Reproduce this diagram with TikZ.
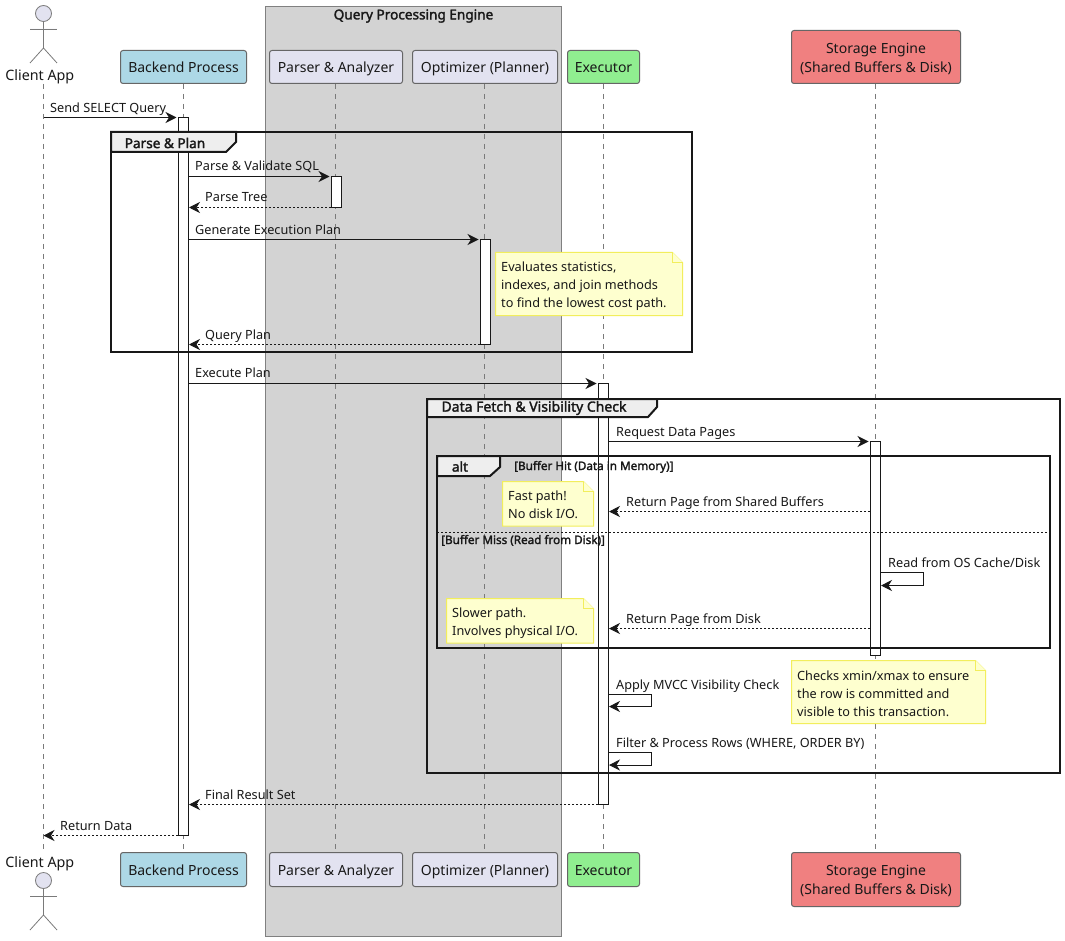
\documentclass[tikz,border=0pt]{standalone}
\usepackage{fontspec}
\setmainfont{Noto Sans}
\newfontfamily\boldnoto[FakeBold=2]{Noto Sans}
\usetikzlibrary{arrows.meta}
\definecolor{ink}{HTML}{181818}
\definecolor{partfill}{HTML}{E2E2F0}
\definecolor{partline}{HTML}{666666}
\definecolor{lifegray}{HTML}{7A7A7A}
\definecolor{boxfill}{HTML}{D3D3D3}
\definecolor{boxline}{HTML}{808080}
\definecolor{tabfill}{HTML}{EEEEEE}
\definecolor{notefill}{HTML}{FEFFCF}
\definecolor{noteline}{HTML}{F2EE5C}
\definecolor{backendfill}{HTML}{ADD8E6}
\definecolor{execfill}{HTML}{90EE90}
\definecolor{storefill}{HTML}{F08080}
\tikzset{
  x=1pt,y=-1pt,
  font=\fontsize{12.7}{18}\selectfont,
  partbox/.style={draw=partline,line width=1pt,rounded corners=2.5pt,inner sep=0pt,align=center,text=ink,font=\fontsize{14}{19}\selectfont},
  topline/.style={text height=14pt,text depth=2.6pt},
  botline/.style={text height=15pt,text depth=2.6pt},
  actorlabel/.style={inner sep=0pt,text=ink,minimum height=18pt,font=\fontsize{14.3}{19}\selectfont},
  actorline/.style={draw=lifegray,line width=0.8pt,fill=partfill},
  lifeline/.style={draw=lifegray,line width=0.7pt,dash pattern=on 5pt off 5pt},
  actbar/.style={draw=ink,line width=1pt,fill=white,inner sep=0pt,minimum width=10pt},
  solidmsg/.style={draw=ink,line width=1pt,-{Stealth[length=11pt,width=11pt,inset=3.5pt,color=ink]}},
  dashmsg/.style={draw=ink,line width=0.8pt,dash pattern=on 2pt off 2pt,-{Stealth[length=11pt,width=11pt,inset=3.5pt,color=ink]}},
  msglabel/.style={anchor=base west,inner sep=0pt,text=ink},
  frameline/.style={draw=ink,line width=2pt},
  tabshape/.style={draw=ink,line width=2pt,fill=tabfill},
  frametitle/.style={inner sep=0pt,text=ink,font=\fontsize{13.6}{16}\boldnoto\selectfont},
  guardtext/.style={anchor=base west,inner sep=0pt,text=ink,font=\fontsize{11.7}{14}\boldnoto\selectfont},
  notebody/.style={draw=noteline,line width=1pt,fill=notefill},
  notetext/.style={anchor=west,inner sep=0pt,align=left,text=ink},
}
% name, start reference, end reference, y, style, label x, label baseline y, text
\newcommand{\seqmsg}[8]{%
  \coordinate (#1s) at (#2 |- 0,#4);
  \coordinate (#1e) at (#3 |- 0,#4);
  \draw[#5] (#1s) -- (#1e);
  \node[msglabel] (#1l) at (#6,#7) {#8};
}
% name, reference, y1, y2, label x, label baseline y, text
\newcommand{\selfmsg}[7]{%
  \coordinate (#1s) at (#2 |- 0,#3);
  \coordinate (#1e) at (#2 |- 0,#4);
  \draw[solidmsg,rounded corners=0pt] (#1s) -- ++(42,0) |- (#1e);
  \node[msglabel] (#1l) at (#5,#6) {#7};
}
% name, x1, y1, x2, y2, text x, text y offset, text
\newcommand{\notebox}[8]{%
  \draw[notebody] (#2,#3) -- (#4-10,#3) -- (#4,#3+10) -- (#4,#5) -- (#2,#5) -- cycle;
  \draw[notebody] (#4-10,#3) -- (#4-10,#3+10) -- (#4,#3+10);
  \node[notetext] (#1) at (#6,{(#3+#5)/2+#7}) {#8};
}
\newcommand{\actorfig}[2]{%
  \draw[actorline] (43.5,#1+8) -- (43.5,#1+34.5);
  \draw[actorline] (30,#1+15.5) -- (57,#1+15.5);
  \draw[actorline,fill=none] (30,#1+49.5) -- (43.5,#1+34.5) -- (57,#1+49.5);
  \draw[actorline] (43.5,#1) circle[radius=8];
}
\begin{document}
\begin{tikzpicture}
\useasboundingbox (0,0) rectangle (1065,941);
\fill[white] (0,0) rectangle (1065,941);

% box
\draw[draw=boxline,line width=1pt,fill=boxfill] (265.5,6.5) rectangle (561.5,936.5);
\node[frametitle] (boxtitle) at (413.5,16) {Query Processing Engine};

% participants (top)
\node[actorlabel] (clienttop) at (39.8,77) {Client App};
\node[partbox,topline,fill=backendfill,minimum width=126pt,minimum height=33pt] (backendtop) at (183.5,67) {Backend Process};
\node[partbox,topline,fill=partfill,minimum width=133pt,minimum height=33pt] (parsertop) at (336,67) {Parser \& Analyzer};
\node[partbox,topline,fill=partfill,minimum width=145pt,minimum height=33pt] (opttop) at (485,67) {Optimizer (Planner)};
\node[partbox,topline,fill=execfill,minimum width=72pt,minimum height=33pt] (exectop) at (603.5,67) {Executor};
\node[partbox,fill=storefill,minimum width=169pt,minimum height=53pt] (storetop) at (876,57) {\rule{0pt}{14.5pt}Storage Engine\\(Shared Buffers \& Disk)};
% participants (bottom)
\node[actorlabel] (clientbot) at (39.8,864) {Client App};
\node[partbox,botline,fill=backendfill,minimum width=126pt,minimum height=34pt] (backendbot) at (183.5,869.5) {Backend Process};
\node[partbox,botline,fill=partfill,minimum width=133pt,minimum height=34pt] (parserbot) at (336,869.5) {Parser \& Analyzer};
\node[partbox,botline,fill=partfill,minimum width=145pt,minimum height=34pt] (optbot) at (485,869.5) {Optimizer (Planner)};
\node[partbox,botline,fill=execfill,minimum width=72pt,minimum height=34pt] (execbot) at (603.5,869.5) {Executor};
\node[partbox,fill=storefill,minimum width=169pt,minimum height=54pt] (storebot) at (876,879.5) {\rule{0pt}{13pt}Storage Engine\\(Shared Buffers \& Disk)};

\actorfig{13.5}{top}
\actorfig{880.5}{bot}

% lifelines
\coordinate (cltop) at (43.5,84);
\coordinate (clbot) at (43.5,850);
\draw[lifeline] (cltop) -- (clbot);
\draw[lifeline] (backendtop.south) -- (backendbot.north);
\draw[lifeline] ([xshift=-0.5pt]parsertop.south) -- ([xshift=-0.5pt]parserbot.north);
\draw[lifeline] ([xshift=-0.5pt]opttop.south) -- ([xshift=-0.5pt]optbot.north);
\draw[lifeline] (exectop.south) -- (execbot.north);
\draw[lifeline] ([xshift=-0.5pt]storetop.south) -- ([xshift=-0.5pt]storebot.north);

% activation bars
\node[actbar,minimum height=718pt] (abackend) at (183.5,476.5) {};
\node[actbar,minimum height=31pt] (aparser) at (336.5,192) {};
\node[actbar,minimum height=105pt] (aopt) at (485.5,292) {};
\node[actbar,minimum height=421pt] (aexec) at (603.5,594) {};
\node[actbar,minimum height=214pt] (astore) at (875.5,548.5) {};

% frames
\draw[frameline] (111,132) rectangle (692,352);
\draw[tabshape] (111,132) -- (236,132) -- (236,142) -- (226,152) -- (111,152) -- cycle;
\node[frametitle] (fplan) at (165,143) {Parse \& Plan};

\draw[frameline] (427,399) rectangle (1060,773);
\draw[tabshape] (427,399) -- (657,399) -- (657,407) -- (648,417) -- (427,417) -- cycle;
\node[frametitle,font=\fontsize{14}{16}\boldnoto\selectfont] (ffetch) at (534,408) {Data Fetch \& Visibility Check};

\draw[frameline] (437,456) rectangle (1050,648);
\draw[tabshape] (437,456) -- (500,456) -- (500,467) -- (490,476) -- (437,476) -- cycle;
\node[frametitle] (falt) at (460,466.5) {alt};
\node[guardtext] (guardhit) at (514,470) {[Buffer Hit (Data in Memory)]};
\coordinate (sepl) at (437,532.5);
\coordinate (sepr) at (1050,532.5);
\draw[draw=ink,line width=1pt,dash pattern=on 2pt off 2pt] (sepl) -- (sepr);
\node[guardtext] (guardmiss) at (441,544) {[Buffer Miss (Read from Disk)]};

% notes
\notebox{nplan}{495.5}{252.5}{682.5}{315.5}{501}{2}{Evaluates statistics,\\indexes, and join methods\\to find the lowest cost path.}
\notebox{nfast}{502.5}{481.5}{593.5}{526}{508}{1}{Fast path!\\No disk I/O.}
\notebox{nslow}{446.5}{598.5}{593.5}{643}{452}{2}{Slower path.\\Involves physical I/O.}
\notebox{nmvcc}{791.5}{660.5}{985.5}{723.5}{797}{2}{Checks xmin/xmax to ensure\\the row is committed and\\visible to this transaction.}

% messages
\coordinate (clx) at (43.5,0);
\seqmsg{m1}{clx}{abackend.west}{117.5}{solidmsg,shorten >=1.5pt}{50}{113}{Send SELECT Query}
\seqmsg{m2}{abackend.east}{aparser.west}{176.5}{solidmsg,shorten >=1.5pt}{195}{171}{Parse \& Validate SQL}
\seqmsg{m3}{aparser.west}{abackend.east}{207.5}{dashmsg}{205}{202}{Parse Tree}
\seqmsg{m4}{abackend.east}{aopt.west}{239.5}{solidmsg,shorten >=1.5pt}{195}{235}{Generate Execution Plan}
\seqmsg{m5}{aopt.west}{abackend.east}{344.5}{dashmsg}{205}{339.5}{Query Plan}
\seqmsg{m6}{abackend.east}{aexec.west}{383.5}{solidmsg,shorten >=1.5pt}{195}{377.5}{Execute Plan}
\seqmsg{m7}{aexec.east}{astore.west}{441.5}{solidmsg,shorten >=1.5pt}{616}{436.5}{Request Data Pages}
\seqmsg{m8}{astore.west}{aexec.east}{511.5}{dashmsg}{626}{506.5}{Return Page from Shared Buffers}
\selfmsg{m9}{astore.east}{572.5}{585.5}{888}{567.5}{Read from OS Cache/Disk}
\seqmsg{m10}{astore.west}{aexec.east}{628.5}{dashmsg}{626}{623.5}{Return Page from Disk}
\selfmsg{m11}{aexec.east}{694}{706.5}{616}{689.5}{Apply MVCC Visibility Check}
\selfmsg{m12}{aexec.east}{752}{765}{616}{747.5}{Filter \& Process Rows (WHERE, ORDER BY)}
\seqmsg{m13}{aexec.west}{abackend.east}{804.5}{dashmsg}{205}{799.5}{Final Result Set}
\seqmsg{m14}{abackend.west}{clx}{835.5}{dashmsg}{60}{830.5}{Return Data}
\end{tikzpicture}
\end{document}
